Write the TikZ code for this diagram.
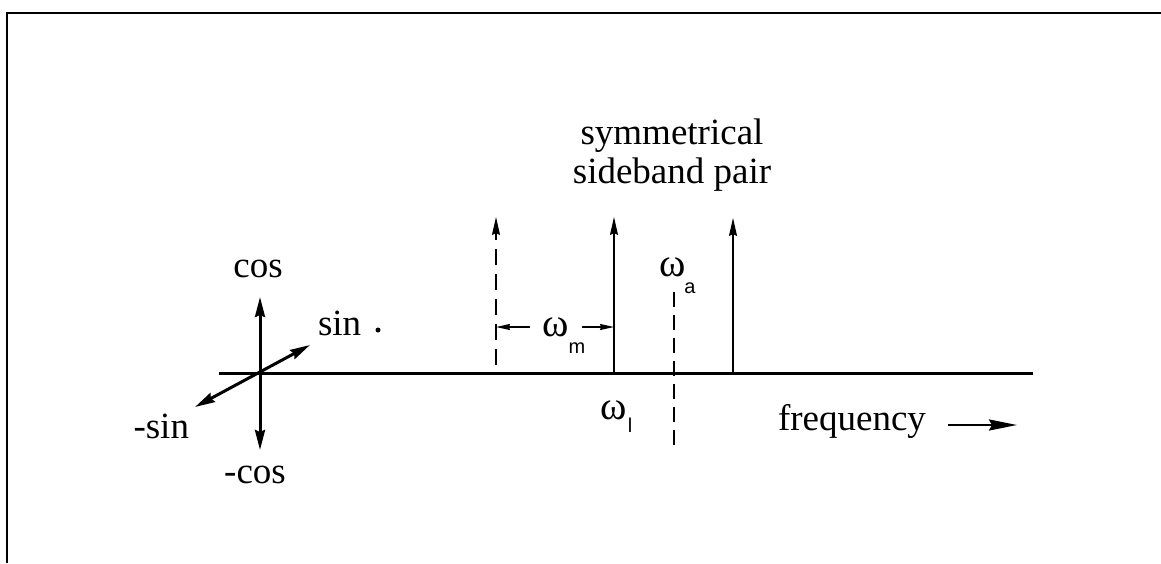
\documentclass[tikz,border=0pt]{standalone}
\usepackage{fontspec}
\setmainfont{Liberation Serif}
\newfontfamily\subfont{Liberation Sans}
\usetikzlibrary{arrows.meta}

\begin{document}
\begin{tikzpicture}[x=1pt,y=-1pt,>={Stealth[length=18pt,width=8pt,inset=2pt]},inner sep=0pt,outer sep=1pt,
  lbl/.style={font=\fontsize{37}{39}\selectfont},
  omg/.style={font=\fontsize{40}{40}\selectfont},
  subs/.style={font=\subfont\fontsize{20}{20}\selectfont},
  heavy/.style={line width=3pt},
  phasor/.style={<->,line width=3pt,>={Stealth[length=20pt,width=10pt,inset=2pt]}},
  spike/.style={->,line width=1.5pt},
  dashspike/.style={spike,dash pattern=on 16pt off 9pt},
  dimarrow/.style={->,line width=1.3pt,>={Stealth[length=14pt,width=6pt,inset=1pt]}}]
  \useasboundingbox (0,0) rectangle (1161,563);
  \draw[line width=2pt] (7,563) -- (7,13) -- (1161,13);
  % phase cross
  \coordinate (O) at (260,373);
  \coordinate (axL) at (219,373);
  \coordinate (axR) at (1033,373);
  \coordinate (cosT) at (260,297);
  \coordinate (cosB) at (260,450);
  \coordinate (sinT) at (310,345);
  \coordinate (sinB) at (195,407);
  \draw[heavy] (axL) -- (axR);
  \draw[phasor] (cosB) -- (cosT);
  \draw[phasor] (sinB) -- (sinT);
  \node[lbl,anchor=base] (cos) at (258,277) {cos};
  \node[lbl,anchor=base] (mcos) at (255,483) {-cos};
  \node[lbl,anchor=base west] (sin) at (317,335) {sin};
  \node[lbl,anchor=base east] (msin) at (190,438) {-sin};
  \node[circle,fill,minimum size=5pt] (dot) at (378,330) {};
  % spectrum
  \coordinate (lb) at (496,365);
  \coordinate (lt) at (496,217);
  \coordinate (cb) at (614,373);
  \coordinate (ct) at (614,217);
  \coordinate (rb) at (733,373);
  \coordinate (rt) at (733,218);
  \coordinate (at) at (674,292);
  \coordinate (ab) at (674,447);
  \draw[dashspike] (lb) -- (lt);
  \draw[spike] (cb) -- (ct);
  \draw[spike] (rb) -- (rt);
  \draw[line width=1.5pt,dash pattern=on 15pt off 8pt] (at) -- (ab);
  \node[lbl,align=center] (pair) at (672,155) {symmetrical\\sideband pair};
  % labels
  \node[omg,inner xsep=12pt] (wm) at (556,327) {ω};
  \node[subs] (m) at (577,348) {m};
  \draw[dimarrow] (wm.west) -- (wm.west -| lb);
  \draw[dimarrow] (wm.east) -- (wm.east -| cb);
  \node[omg] (wa) at (673,267) {ω};
  \node[subs] (a) at (690,288) {a};
  \node[omg] (wl) at (614,410) {ω};
  \node[subs] (l) at (630,425) {l};
  \node[lbl,anchor=base west] (freq) at (777,430) {frequency};
  \coordinate (fs) at (948,425);
  \coordinate (fe) at (1017,425);
  \draw[->,line width=2.5pt,>={Stealth[length=28pt,width=11pt,inset=3pt]}] (fs) -- (fe);
\end{tikzpicture}
\end{document}
